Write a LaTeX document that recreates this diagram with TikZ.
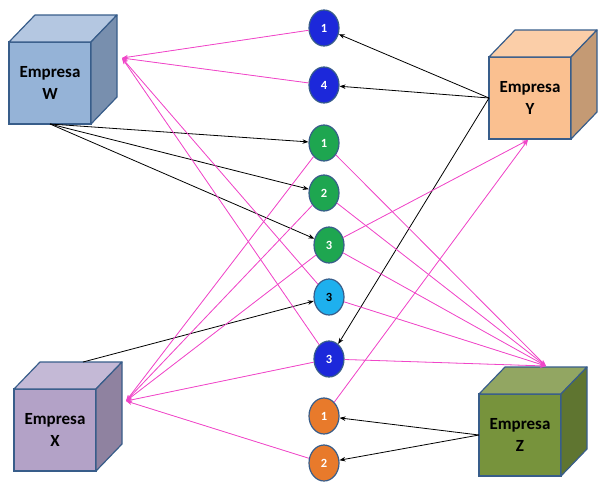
\documentclass[tikz,border=0pt]{standalone}
\usepackage{fontspec}
\setmainfont{Carlito}
\usepackage{tikz}
\usetikzlibrary{shapes.geometric,arrows.meta}
\tikzset{>={Stealth[length=6pt,width=4.5pt]}}

\definecolor{borde}{RGB}{56,93,138}
\definecolor{rosa}{RGB}{240,70,200}
\definecolor{wfront}{RGB}{149,179,215}
\definecolor{wtop}{RGB}{180,199,225}
\definecolor{wside}{RGB}{120,143,174}
\definecolor{yfront}{RGB}{250,192,144}
\definecolor{ytop}{RGB}{251,206,168}
\definecolor{yside}{RGB}{196,154,116}
\definecolor{xfront}{RGB}{179,162,199}
\definecolor{xtop}{RGB}{196,185,214}
\definecolor{xside}{RGB}{143,130,160}
\definecolor{zfront}{RGB}{119,147,60}
\definecolor{ztop}{RGB}{146,166,98}
\definecolor{zside}{RGB}{95,117,48}
\definecolor{azul}{RGB}{28,40,218}
\definecolor{verde}{RGB}{30,166,80}
\definecolor{celeste}{RGB}{30,176,238}
\definecolor{naranja}{RGB}{232,122,43}

\tikzset{
    cara/.style={draw=borde, line width=1.2pt, minimum size=82pt, outer sep=0pt,
        align=center, font=\fontsize{17}{22}\selectfont\bfseries},
    bola/.style={ellipse, draw=borde, line width=1.2pt, minimum width=30pt,
        minimum height=36pt, inner sep=0pt, text=white,
        font=\fontsize{12.5}{14}\selectfont\bfseries},
    rosa/.style={->, draw=rosa, fill=rosa, line width=0.8pt},
    negro/.style={->, draw=black, line width=0.8pt}
}

% cube: name, x, y, front, top, side, letter
\newcommand{\cubo}[7]{
    \node[cara, fill=#4] (#1) at (#2,#3) {Empresa\\#7};
    \draw[draw=borde, line width=1.2pt, line join=round, fill=#5]
        (#1.north west) -- ++(26,-27) -- ++(82,0) -- (#1.north east) -- cycle;
    \draw[draw=borde, line width=1.2pt, line join=round, fill=#6]
        (#1.north east) -- ++(26,-27) -- ++(0,82) -- (#1.south east) -- cycle;
}

\begin{document}
\begin{tikzpicture}[x=1pt, y=-1pt]
    \useasboundingbox (0,0) rectangle (599,496);
    % set up the companies
    \cubo{W}{50}{83}{wfront}{wtop}{wside}{W}
    \cubo{Y}{530}{98}{yfront}{ytop}{yside}{Y}
    \cubo{X}{55}{430}{xfront}{xtop}{xside}{X}
    \cubo{Z}{520}{435}{zfront}{ztop}{zside}{Z}
    \coordinate (Win) at (122,58);
    \coordinate (Yin) at (528,140);
    \coordinate (Xin) at (126,401);
    \coordinate (Xout) at (83,362);
    \coordinate (Zin) at (546,366);
    % set up the circles
    \node[bola, fill=azul] (B1) at (324,28) {1};
    \node[bola, fill=azul] (B4) at (324,85) {4};
    \node[bola, fill=verde] (G1) at (324,143) {1};
    \node[bola, fill=verde] (G2) at (324,193) {2};
    \node[bola, fill=verde] (G3) at (329,245) {3};
    \node[bola, fill=celeste, text=black] (C3) at (329,297) {3};
    \node[bola, fill=azul] (D3) at (329,359) {3};
    \node[bola, fill=naranja] (O1) at (324,416) {1};
    \node[bola, fill=naranja] (O2) at (324,463) {2};
    % draw black arrows
    \draw[negro] (Y.west)--(B1);
    \draw[negro] (Y.west)--(B4);
    \draw[negro] (Y.west)--(D3);
    \draw[negro] (W.south)--(G1);
    \draw[negro] (W.south)--(G2);
    \draw[negro] (W.south)--(G3);
    \draw[negro] (Xout)--(C3);
    \draw[negro] (Z.west)--(O1);
    \draw[negro] (Z.west)--(O2);
    % draw pink arrows
    \foreach \c in {B1,B4,C3,D3} \draw[rosa] (\c)--(Win);
    \foreach \c in {G1,G2,G3,D3,O2} \draw[rosa] (\c)--(Xin);
    \foreach \c in {G3,O1} \draw[rosa] (\c)--(Yin);
    \foreach \c in {G1,G2,G3,C3,D3} \draw[rosa] (\c)--(Zin);
\end{tikzpicture}
\end{document}
